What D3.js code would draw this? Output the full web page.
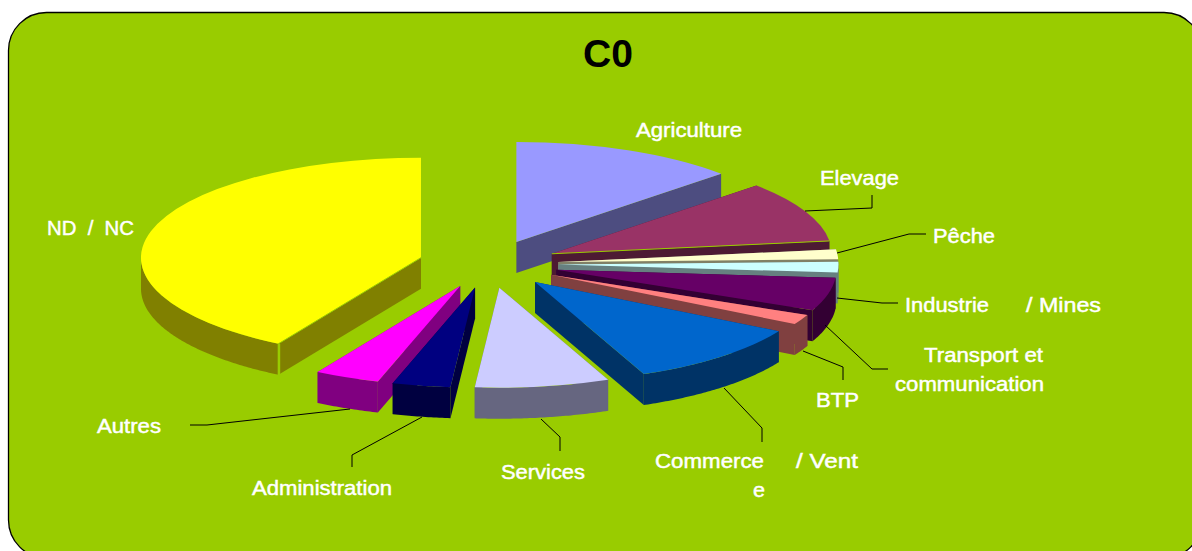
<!DOCTYPE html>
<html>
<head>
<meta charset="utf-8">
<script src="https://cdn.jsdelivr.net/npm/d3@7"></script>
<style>
html,body{margin:0;padding:0;background:#fff;overflow:hidden}
svg{display:block}
text{font-family:"Liberation Sans",Arial,sans-serif}
</style>
</head>
<body>
<script>
const title = "C0";
const categories = ["Agriculture","Elevage","Pêche","Industrie / Mines","Transport et communication","BTP","Commerce / Vente","Services","Administration","Autres","ND / NC"];
const shares = [13.05,9.9,1.6,1.7,5.35,1.6,10.45,7.75,3.35,3.75,41.5];
const palette = ["#9999FF","#993366","#FFFFCC","#CCFFFF","#660066","#FF8080","#0066CC","#CCCCFF","#000080","#FF00FF","#FFFF00"];

const W = 1192, H = 551;
const cx = 488.5, cy = 264, rx = 280, ry = 100, explodeX = 70, explodeY = 24, depth = 31;
const tilt = ry / rx;
const BG = "#99CC00";

const svg = d3.select("body").append("svg").attr("width", W).attr("height", H);
svg.append("rect").attr("x",8.5).attr("y",12.5).attr("width",1193.5).attr("height",545.5)
  .attr("rx",38).attr("ry",38).attr("fill",BG).attr("stroke","#000").attr("stroke-width",1.3);

svg.append("text").attr("x",583).attr("y",67)
  .attr("font-size",39).attr("font-weight","bold").attr("fill","#000")
  .attr("textLength",50).attr("lengthAdjust","spacingAndGlyphs").text(title);

const pie = d3.pie().sort(null).value(d => d)(shares);
const slices = pie.map((p,i) => {
  const mid = (p.startAngle + p.endAngle) / 2;
  return {
    a0: p.startAngle, a1: p.endAngle, color: palette[i], name: categories[i],
    ax: cx + explodeX * Math.sin(mid),
    ay: cy - explodeY * Math.cos(mid)
  };
}).sort((a,b) => a.ay - b.ay);

const arc = d3.arc().innerRadius(0).outerRadius(rx);
const line = d3.line();
const half = c => { const r = d3.rgb(c); return d3.rgb(r.r/2, r.g/2, r.b/2).formatHex(); };

slices.forEach(s => {
  const g = svg.append("g").attr("class","slice");
  const rim = a => [s.ax + rx*Math.sin(a), s.ay - ry*Math.cos(a)];
  const wall = half(s.color);
  // radial walls
  [s.a0, s.a1].forEach(a => {
    const p = rim(a);
    g.append("path").attr("fill",wall)
      .attr("d", line([[s.ax,s.ay],p,[p[0],p[1]+depth],[s.ax,s.ay+depth]]) + "Z");
  });
  // outer curved wall (only the part facing the viewer)
  const lo = Math.max(s.a0, Math.PI/2), hi = Math.min(s.a1, Math.PI*1.5);
  if (hi > lo) {
    const ang = d3.range(lo, hi, 0.01).concat([hi]);
    const top = ang.map(rim);
    const bot = top.slice().reverse().map(p => [p[0], p[1]+depth]);
    g.append("path").attr("fill",wall).attr("d", line(top.concat(bot)) + "Z");
  }
  // top face
  g.append("path").attr("fill",s.color)
    .attr("transform",`translate(${s.ax},${s.ay}) scale(1,${tilt})`)
    .attr("d", arc({startAngle:s.a0,endAngle:s.a1}));
  // thin background-coloured seams where the source shows a gap
  if (s.name === "ND / NC") {
    const p = rim(s.a0);
    g.append("path").attr("fill","none").attr("stroke",BG).attr("stroke-width",1)
      .attr("d", line([[s.ax,s.ay],p]));
    g.append("path").attr("fill","none").attr("stroke",BG).attr("stroke-width",2.5)
      .attr("d", line([[p[0]+0.5,p[1]],[p[0]+0.5,p[1]+depth+1]]));
  }
  if (s.name === "Elevage") {
    g.append("path").attr("fill","none").attr("stroke",BG).attr("stroke-width",1)
      .attr("d", line([[s.ax,s.ay],rim(s.a1)]));
  }
});

// leader lines
const leaders = [
  [[805,211],[872,208],[872,195]],
  [[837,253],[909,234],[926,234]],
  [[837,298],[882,303],[898,303]],
  [[825,325],[872,369],[888,369]],
  [[803,351],[843,367],[843,380]],
  [[724,388],[762,428],[762,442]],
  [[541,419],[560,437],[560,451]],
  [[422,417],[352,455],[352,467]],
  [[350,409],[207,425],[190,425]]
];
svg.append("g").selectAll("path").data(leaders).join("path")
  .attr("d", d => line(d)).attr("fill","none").attr("stroke","#000").attr("stroke-width",1);

// labels: text, x, baseline, drawn width
const labels = [
  ["Agriculture",636,137,106],["Elevage",820,185,79],["Pêche",933,243,62],
  ["Industrie",905,312,84],["/ Mines",1026,312,75],
  ["Transport et",924,362,119],["communication",895,391,149],
  ["BTP",816,407,43],
  ["Commerce",655,468,109],["/ Vent",796,468,62],["e",753,497,12],
  ["Services",501,479,84],["Administration",252,495,140],["Autres",97,433,64],["ND  /  NC",47,235,87]
];
svg.append("g").selectAll("text").data(labels).join("text")
  .attr("x",d=>d[1]).attr("y",d=>d[2]).attr("font-size",19.5).attr("fill","#fff")
  .attr("stroke","#fff").attr("stroke-width",0.45)
  .attr("textLength",d=>d[3]).attr("lengthAdjust","spacingAndGlyphs")
  .style("white-space","pre").text(d=>d[0]);
</script>
</body>
</html>
